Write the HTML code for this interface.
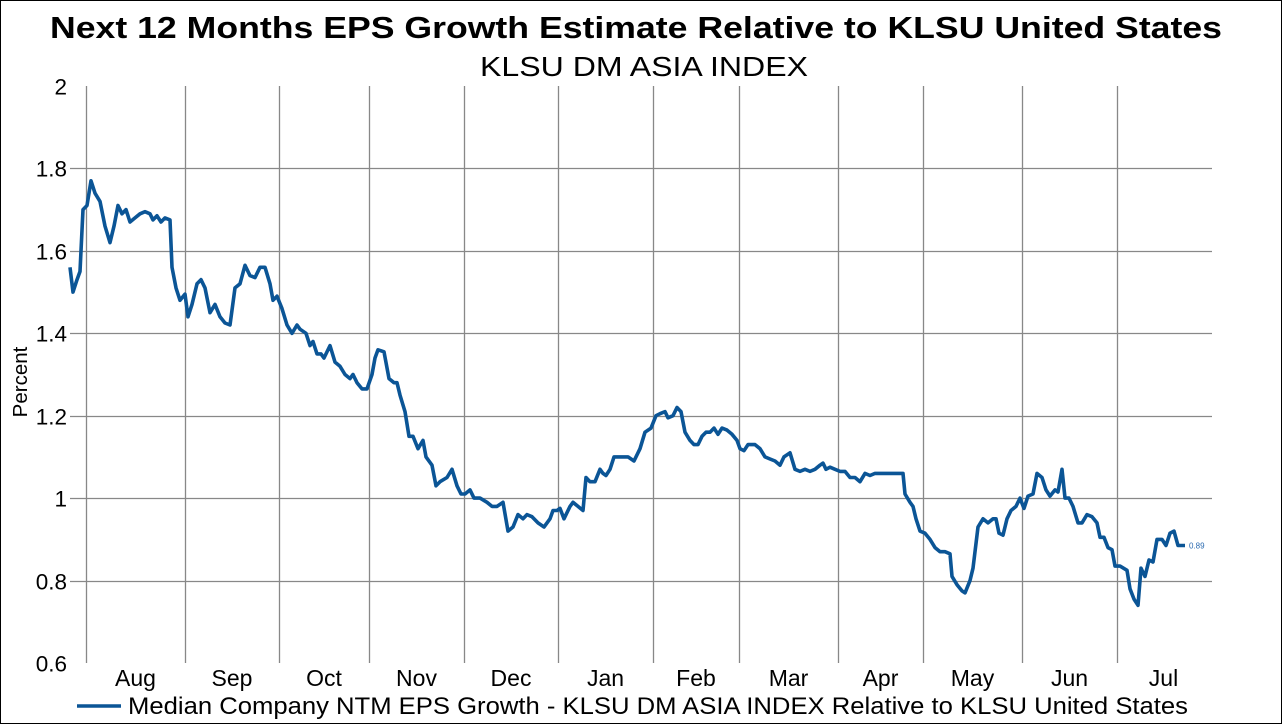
<!DOCTYPE html>
<html><head><meta charset="utf-8"><style>
html,body{margin:0;padding:0;background:#fff;}
svg{display:block;font-family:"Liberation Sans",Arial,sans-serif;}
</style></head><body>
<svg id="chart" width="1283" height="725" viewBox="0 0 1283 725" xmlns="http://www.w3.org/2000/svg">
<rect x="0.5" y="0.5" width="1281" height="723" fill="#fff" stroke="#000" stroke-width="1"/>
<text x="636" y="38" text-anchor="middle" font-size="31" font-weight="bold" textLength="1172" lengthAdjust="spacingAndGlyphs">Next 12 Months EPS Growth Estimate Relative to KLSU United States</text>
<text x="644" y="76" text-anchor="middle" font-size="28" textLength="328" lengthAdjust="spacingAndGlyphs">KLSU DM ASIA INDEX</text>
<text transform="translate(27,382) rotate(-90)" text-anchor="middle" font-size="20.5">Percent</text>
<g id="grid"></g>
<g id="yticks"></g>
<g id="xticks"></g>
<g id="series"></g>
<g>
<line x1="77" y1="706" x2="121" y2="706" stroke="#0b5596" stroke-width="3.5"/>
<text x="128" y="714" font-size="24" textLength="1060" lengthAdjust="spacingAndGlyphs">Median Company NTM EPS Growth - KLSU DM ASIA INDEX Relative to KLSU United States</text>
</g>
</svg>
<script>
const yTickValues = [0.6, 0.8, 1, 1.2, 1.4, 1.6, 1.8, 2];
const yTickLabels = ["0.6", "0.8", "1", "1.2", "1.4", "1.6", "1.8", "2"];
const monthLabels = ["Aug","Sep","Oct","Nov","Dec","Jan","Feb","Mar","Apr","May","Jun","Jul"];
const monthStarts = [4, 28.75, 52.25, 74.75, 98.5, 122, 145.75, 167.25, 192, 213.25, 238, 261.75, 285];
const tradingDays = [0,0.75,1.75,2.5,3.25,4.25,5.25,6.25,7.5,8.75,10,11,12,13,14,15,16.25,17.5,18.75,20,20.75,21.75,22.75,23.75,25,25.5,26.5,27.5,28.75,29.5,30.5,31.75,32.75,33.75,35,36.25,37.5,38.75,40,41.25,42.5,43.75,45,46.25,47.5,48.75,50,50.75,51.75,53,54.25,55.5,56.75,57.5,59,60,60.75,61.75,62.75,63.5,65,66.25,67.5,68.75,70,70.75,71.75,73,74.25,75.5,76.25,77,78.5,79.75,81,81.75,82.5,83.75,84.75,85.75,87,88.25,89,90.5,91.5,92.5,94.25,95.5,96.75,97.75,98.75,100,101,102.5,104.25,105.5,106.75,108.25,109.5,110.75,112,113.25,114.25,115.5,117,118.5,120,120.75,121.75,122.5,123.5,125,125.75,127,128.25,129,130,131.25,132.5,133.25,134,135,136,137.5,139.5,141,142.5,143.75,145.25,146.5,147.5,148.75,149.5,150.75,151.75,152.75,153.75,155,156,157,158,159,160,161,162,163,164.25,165.5,166.75,167.5,168.5,169.5,171.25,172.5,173.75,175,176.25,177.5,178.5,180,181.25,182.5,183.75,185,186.25,187.5,188.25,189,190,191.25,192.5,193.75,195,196.25,197.5,198.75,200,201.25,208.25,208.75,210,210.75,211.5,212.5,213.75,215,216.25,217.5,218.75,220,220.5,221.75,223,223.75,225,225.75,226.5,227,228.25,229.5,230.75,231.5,232.25,233.25,234.25,235.25,236.5,237.5,238.5,239.5,240.75,241.75,243,244,245,246.25,247,248,248.75,249.75,250.75,252,253,254.25,255.5,256.75,257.5,258.5,259.5,260.5,261.25,262.5,264.25,265,266,267,267.75,268.75,269.75,270.75,271.75,273,274,275,276,277,278.75];
const epsRelative = [1.56,1.50,1.53,1.55,1.70,1.71,1.77,1.74,1.72,1.66,1.62,1.66,1.71,1.69,1.70,1.67,1.68,1.69,1.695,1.69,1.675,1.685,1.67,1.68,1.675,1.56,1.51,1.48,1.495,1.44,1.47,1.52,1.53,1.51,1.45,1.47,1.44,1.425,1.42,1.51,1.52,1.565,1.54,1.535,1.56,1.56,1.52,1.48,1.49,1.46,1.42,1.40,1.42,1.41,1.40,1.37,1.38,1.35,1.35,1.34,1.37,1.33,1.32,1.30,1.29,1.30,1.28,1.265,1.265,1.30,1.34,1.36,1.355,1.29,1.28,1.28,1.25,1.21,1.15,1.15,1.12,1.14,1.10,1.08,1.03,1.04,1.05,1.07,1.03,1.01,1.01,1.02,1.00,1.00,0.99,0.98,0.98,0.99,0.92,0.93,0.96,0.95,0.96,0.955,0.94,0.93,0.95,0.97,0.97,0.975,0.95,0.98,0.99,0.98,0.97,1.05,1.04,1.04,1.07,1.06,1.055,1.07,1.10,1.10,1.10,1.09,1.12,1.16,1.17,1.20,1.205,1.21,1.195,1.20,1.22,1.21,1.16,1.14,1.13,1.13,1.15,1.16,1.16,1.17,1.155,1.17,1.165,1.155,1.14,1.12,1.115,1.13,1.13,1.12,1.10,1.095,1.09,1.08,1.10,1.11,1.07,1.065,1.07,1.065,1.07,1.08,1.085,1.07,1.075,1.07,1.065,1.065,1.05,1.05,1.04,1.06,1.055,1.06,1.06,1.01,0.99,0.98,0.95,0.92,0.915,0.90,0.88,0.87,0.87,0.865,0.81,0.79,0.775,0.77,0.80,0.83,0.89,0.93,0.95,0.94,0.95,0.95,0.915,0.91,0.95,0.97,0.98,1.00,0.975,1.005,1.01,1.06,1.05,1.02,1.005,1.02,1.015,1.07,1.00,1.00,0.98,0.94,0.94,0.96,0.955,0.94,0.905,0.905,0.88,0.875,0.835,0.835,0.825,0.78,0.755,0.74,0.83,0.81,0.85,0.845,0.90,0.90,0.885,0.915,0.92,0.885,0.885];
const lastLabel = "0.89";

const NS = "http://www.w3.org/2000/svg";
const plotTop = 86, plotBottom = 663, plotLeft = 86, plotRight = 1212;
function yScale(v){ return plotBottom - (v - 0.6) / 1.4 * (plotBottom - plotTop); }
function xScale(d){ return 70 + d * 4; }
function mk(tag, attrs, parent){ const e = document.createElementNS(NS, tag); for (const k in attrs) e.setAttribute(k, attrs[k]); parent.appendChild(e); return e; }

const grid = document.getElementById('grid');
const yt = document.getElementById('yticks');
const xt = document.getElementById('xticks');
const series = document.getElementById('series');

yTickValues.forEach((v, i) => {
  const y = Math.round(yScale(v)) + 0.5;
  if (v > 0.6 && v < 2) {
    const l = mk('line', {x1: 70, x2: plotRight, y1: y, y2: y, stroke: '#888', 'stroke-width': 1.3}, grid);
    
    
  }
  const t = mk('text', {x: 67, y: y + 8, 'text-anchor': 'end', 'font-size': 22.5}, yt);
  t.textContent = yTickLabels[i];
  
  
});

monthStarts.slice(0, 12).forEach((d, i) => {
  const x = Math.round(xScale(d)) + 0.5;
  const l = mk('line', {x1: x, x2: x, y1: plotTop, y2: plotBottom, stroke: '#888', 'stroke-width': 1.3}, grid);
  
  
  const cx = (xScale(d) + xScale(monthStarts[i + 1])) / 2;
  const t = mk('text', {x: cx, y: 686, 'text-anchor': 'middle', 'font-size': 23}, xt);
  t.textContent = monthLabels[i];
  
  
});

const pts = tradingDays.map((d, i) => xScale(d).toFixed(1) + ',' + yScale(epsRelative[i]).toFixed(1)).join(' ');
const line = mk('polyline', {points: pts, fill: 'none', stroke: '#0b5596', 'stroke-width': 3.6, 'stroke-linejoin': 'round'}, series);



const lastD = tradingDays[tradingDays.length - 1], lastV = epsRelative[epsRelative.length - 1];
const lab = mk('text', {x: xScale(lastD) + 4, y: yScale(lastV) + 3, 'font-size': 8, fill: '#2a6ab0'}, series);
lab.textContent = lastLabel;


</script>
</body></html>
